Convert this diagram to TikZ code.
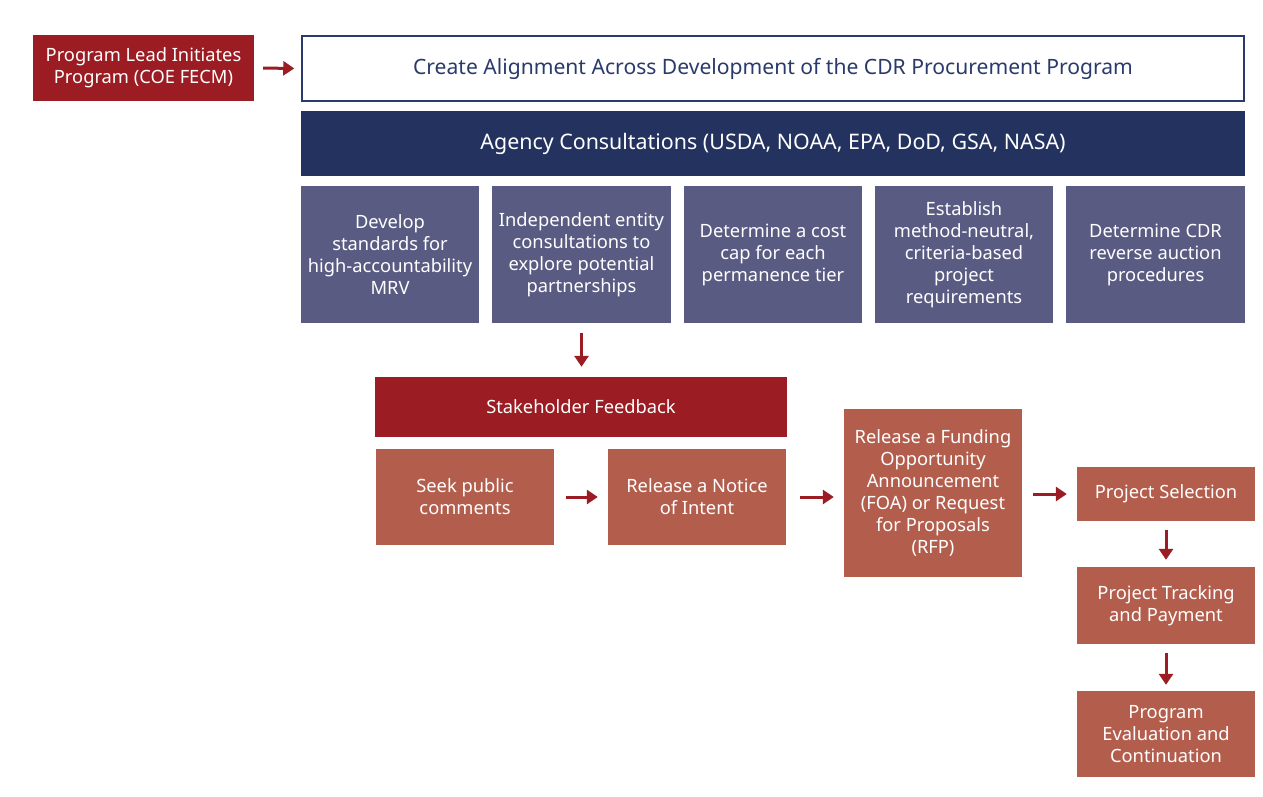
\documentclass[tikz,border=0pt]{standalone}
\usepackage{fontspec}
\setmainfont{Noto Sans}
\usetikzlibrary{arrows.meta}
\definecolor{dred}{HTML}{9B1C22}
\definecolor{navy}{HTML}{23325F}
\definecolor{navytxt}{HTML}{2B3A6B}
\definecolor{slate}{HTML}{5A5B82}
\definecolor{terra}{HTML}{B35D4D}
\tikzset{
  box/.style={draw=none, inner sep=0pt, align=center, text=white,
    font=\fontsize{18.3}{22}\selectfont},
  redbox/.style={box, fill=dred},
  slatebox/.style={box, fill=slate},
  terrabox/.style={box, fill=terra},
  flow/.style={draw=dred, line width=3pt, -{Triangle[width=14pt,length=11pt]}},
}
\newcommand{\bx}[6]{\node[#1, minimum width=#4-#2, minimum height=#5-#3] (#6) at ({(#2+#4)/2},{(#3+#5)/2})}
\begin{document}
\begin{tikzpicture}[x=1pt,y=-1pt]
\useasboundingbox[fill=white] (0,0) rectangle (1263,797);
\bx{redbox}{33}{35}{254}{101}{lead} {Program Lead Initiates\\Program (COE FECM)};
\node[draw=navytxt, line width=1.5pt, minimum width=942, minimum height=65, inner sep=0pt, text=navytxt, font=\fontsize{21.1}{25}\selectfont] (alignb) at (773,68.5) {\raisebox{-2pt}{Create Alignment Across Development of the CDR Procurement Program}};
\bx{box, fill=navy, font=\fontsize{21.4}{25}\selectfont}{301}{111}{1245}{176}{agency} {\raisebox{-1pt}{Agency Consultations (USDA, NOAA, EPA, DoD, GSA, NASA)}};
\bx{slatebox}{301}{186}{479}{323}{s1} {Develop\\standards for\\high-accountability\\MRV};
\bx{slatebox}{492}{186}{671}{323}{s2} {Independent entity\\consultations to\\explore potential\\partnerships};
\bx{slatebox}{684}{186}{862}{323}{s3} {Determine a cost\\cap for each\\permanence tier};
\bx{slatebox}{875}{186}{1053}{323}{s4} {Establish\\method-neutral,\\criteria-based\\project\\requirements};
\bx{slatebox}{1066}{186}{1245}{323}{s5} {Determine CDR\\reverse auction\\procedures};
\bx{redbox}{375}{377}{787}{437}{stake} {Stakeholder Feedback};
\bx{terrabox}{376}{449}{554}{545}{seek} {Seek public\\comments};
\bx{terrabox}{608}{449}{786}{545}{noi} {Release a Notice\\of Intent};
\bx{terrabox}{844}{409}{1022}{577}{foa} {Release a Funding\\Opportunity\\Announcement\\(FOA) or Request\\for Proposals\\(RFP)};
\bx{terrabox}{1077}{467}{1255}{521}{sel} {Project Selection};
\bx{terrabox}{1077}{567}{1255}{644}{track} {Project Tracking\\and Payment};
\bx{terrabox}{1077}{691}{1255}{777}{eval} {Program\\Evaluation and\\Continuation};
\draw[flow, shorten <=9pt, shorten >=7pt] (lead.east) -- (alignb.west);
\draw[flow, shorten <=10pt, shorten >=10pt] (s2.south) -- (s2.south |- stake.north);
\draw[flow, shorten <=12pt, shorten >=10pt] (seek.east) -- (noi.west);
\draw[flow, shorten <=14pt, shorten >=10pt] (noi.east) -- (noi.east -| foa.west);
\draw[flow, shorten <=11pt, shorten >=10pt] (foa.east |- sel.west) -- (sel.west);
\draw[flow, shorten <=9pt, shorten >=7pt] (sel.south) -- (track.north);
\draw[flow, shorten <=9pt, shorten >=6pt] (track.south) -- (eval.north);
\end{tikzpicture}
\end{document}
